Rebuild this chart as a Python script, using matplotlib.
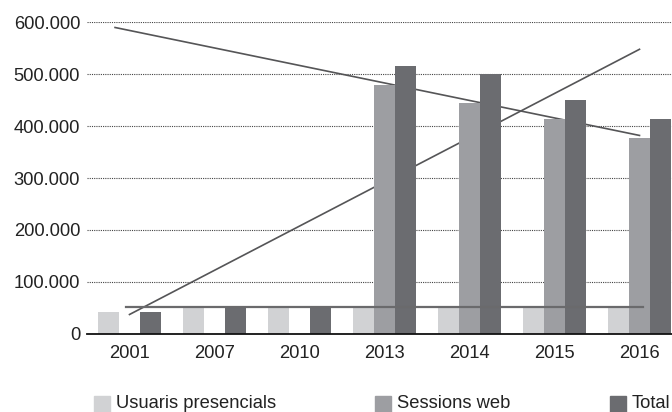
import numpy as np
import matplotlib
matplotlib.use("Agg")
from matplotlib import pyplot as plt
from matplotlib.patches import Rectangle
from matplotlib.ticker import FuncFormatter

years = ["2001", "2007", "2010", "2013", "2014", "2015", "2016"]
presencials = [42000, 53000, 50000, 50000, 50000, 50000, 50000]
sessions_web = [0, 0, 0, 479000, 445000, 414000, 378000]
total = [42000, 53000, 50000, 516000, 500000, 451000, 414000]

series_names = ["Usuaris presencials", "Sessions web", "Total"]
series_colors = ["#d1d2d4", "#9d9ea2", "#6b6c70"]

# extra lines drawn over the chart (x in category index, y in value)
line_down_x = [-0.17, 6.0]
line_down_y = [590000, 382000]
line_up_x = [0.0, 6.0]
line_up_y = [37000, 548000]
line_flat_x = [-0.04, 6.04]
line_flat_y = [50500, 50500]

plt.rcParams["font.family"] = ["Liberation Sans", "DejaVu Sans"]

W, H = 672, 412
fig = plt.figure(figsize=(W / 100, H / 100), dpi=100)
ax = fig.add_axes([87 / W, 78.3 / H, 595 / W, 311.4 / H])

x = np.arange(len(years))
bw = 0.247
for i, (vals, col) in enumerate(zip([presencials, sessions_web, total], series_colors)):
    ax.bar(x + (i - 1) * bw, vals, width=bw, color=col, zorder=2)

# the slanted lines sit behind the bars, the flat one in front
ax.plot(line_down_x, line_down_y, color="#555557", lw=1.2, zorder=1.5)
ax.plot(line_up_x, line_up_y, color="#555557", lw=1.2, zorder=1.5)
ax.plot(line_flat_x, line_flat_y, color="#6a6a6c", lw=1.6, zorder=3)

ax.set_xlim(-0.5, 6.5)
ax.set_ylim(0, 600000)
ax.set_yticks(np.arange(0, 600001, 100000))
ax.yaxis.set_major_formatter(FuncFormatter(lambda v, p: "0" if v == 0 else f"{int(v):,}".replace(",", ".")))
ax.set_xticks(x)
ax.set_xticklabels(years)
ax.grid(axis="y", linestyle=(0, (1, 1)), color="#444444", lw=0.8, zorder=0)
ax.set_axisbelow(True)
for s in ["top", "right", "left"]:
    ax.spines[s].set_visible(False)
ax.spines["bottom"].set_color("#111111")
ax.spines["bottom"].set_linewidth(1.3)
ax.spines["bottom"].set_zorder(4)
ax.tick_params(axis="both", length=0, labelsize=13.2, colors="#222222")
ax.tick_params(axis="x", pad=8)
ax.tick_params(axis="y", pad=5)

# legend along the bottom
leg_x = [94, 375, 610]
for lx, name, col in zip(leg_x, series_names, series_colors):
    fig.patches.append(Rectangle((lx / W, -2 / H), 16 / W, 18 / H, transform=fig.transFigure,
                                 color=col, figure=fig))
    fig.text((lx + 22) / W, 8 / H, name, fontsize=13.2, color="#222222", va="center", ha="left")

fig.savefig("out.png", dpi=100)
